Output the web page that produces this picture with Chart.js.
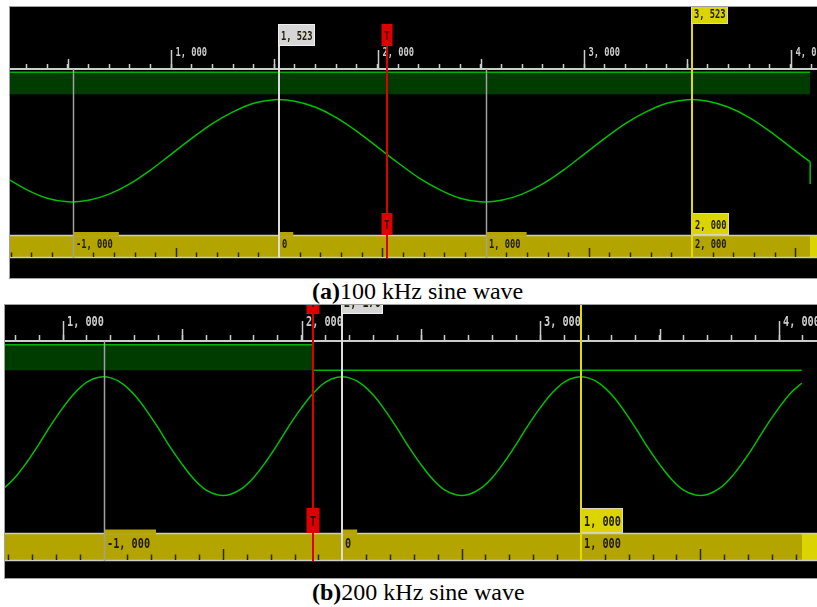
<!DOCTYPE html>
<html><head><meta charset="utf-8">
<script src="https://cdn.jsdelivr.net/npm/chart.js@4.4.1/dist/chart.umd.min.js"></script>
<style>
html,body{margin:0;padding:0;background:#fff;width:817px;height:607px;overflow:hidden;position:relative}
.panel{position:absolute;background:#000;border:1px solid #a0a0a0;border-right:none}
.panel canvas{display:block}
.cap{position:absolute;font-family:"Liberation Serif","Times New Roman",serif;font-size:24px;line-height:24px;white-space:nowrap;color:#000}
</style></head><body>
<div class="panel" style="left:9px;top:6px;width:807px;height:271px"><canvas id="chartA" width="807" height="271"></canvas></div>
<div class="cap" style="left:312px;top:279px"><b>(a)</b>100 kHz sine wave</div>
<div class="panel" style="left:4px;top:304px;width:812px;height:273px"><canvas id="chartB" width="812" height="273"></canvas></div>
<div class="cap" style="left:312px;top:580px"><b>(b)</b>200 kHz sine wave</div>
<script>
// ================= DATA =================
// (a) 100 kHz sine wave  (x = sample index)
const viewA = [220, 4128];
const sampleA = [200,300,400,500,600,700,800,900,1000,1100,1200,1300,1400,1500,1600,1700,1800,1900,2000,2100,2200,2300,2400,2500,2600,2700,2800,2900,3000,3100,3200,3300,3400,3500,3600,3700,3800,3900,4000,4095];
const waveA = [-0.53,-0.76,-0.93,-1.00,-0.97,-0.85,-0.65,-0.38,-0.07,0.24,0.53,0.76,0.93,1.00,0.97,0.85,0.65,0.38,0.07,-0.24,-0.53,-0.76,-0.93,-1.00,-0.97,-0.85,-0.65,-0.38,-0.07,0.24,0.53,0.76,0.93,1.00,0.97,0.85,0.65,0.38,0.07,-0.22];
const endSampleA = [4095, 4095];      // last sample: trace drops straight down
const endWaveA = [-0.22, -0.65];
const logicSampleA = [200, 4095];
const logicA = [1, 1];
const cursorA = [1523, 3523];   // reference (white) cursor, yellow cursor
const triggerA = 2048;

// (b) 200 kHz sine wave
const viewB = [757, 4159];
const sampleB = [700,750,800,850,900,950,1000,1050,1100,1150,1200,1250,1300,1350,1400,1450,1500,1550,1600,1650,1700,1750,1800,1850,1900,1950,2000,2050,2100,2150,2200,2250,2300,2350,2400,2450,2500,2550,2600,2650,2700,2750,2800,2850,2900,2950,3000,3050,3100,3150,3200,3250,3300,3350,3400,3450,3500,3550,3600,3650,3700,3750,3800,3850,3900,3950,4000,4050,4095];
const waveB = [-0.98,-0.88,-0.69,-0.43,-0.13,0.19,0.48,0.73,0.91,0.99,0.98,0.88,0.69,0.43,0.13,-0.19,-0.48,-0.73,-0.91,-0.99,
               -0.98,-0.88,-0.69,-0.43,-0.13,0.19,0.48,0.73,0.91,0.99,0.98,0.88,0.69,0.43,0.13,-0.19,-0.48,-0.73,-0.91,-0.99,
               -0.98,-0.88,-0.69,-0.43,-0.13,0.19,0.48,0.73,0.91,0.99,0.98,0.88,0.69,0.43,0.13,-0.19,-0.48,-0.73,-0.91,-0.99,
               -0.98,-0.88,-0.69,-0.43,-0.13,0.19,0.48,0.73,0.89];
const endSampleB = [];
const endWaveB = [];
const logicSampleB = [700, 2048, 2048, 4095];
const logicB = [1, 1, 0, 0];
const cursorB = [2170, 3170];
const triggerB = 2048;

const recordLength = 4096;
const minorStep = 100, mediumStep = 500, majorStep = 1000;

// ================= STYLE =================
const C = {axis:'#cccccc', band:'#b4a400', bright:'#dcd400', boxEdge:'#d8d8b8', bandTick:'#2c2800',
  grid:'#a0a0a0', white:'#dcdcdc', whiteBox:'#d6d6d6', whiteEdge:'#efefef', yellow:'#e2da00', red:'#dc0000',
  dark:'#1e1c00', wave:'#00c000', logic:'#00b000', logicFill:'#003c00'};
const SA = {axisTop:62, bottomPad:20, tickMin:5, tickMed:10, tickMaj:19, font:12.5, sx:0.70, lblDx:4, topLblUp:16.5,
  bandH:23, bandTickMin:4.5, bandTickMed:9, bandLblDown:9.5, txtDx:3, tabH:3, tabPad:8, boxW:37, boxH:22, boxOff:23, boxTxtUp:9.5, trigW:11};
const SB = {axisTop:36, bottomPad:17, tickMin:6, tickMed:12, tickMaj:20, font:13.8, sx:0.74, lblDx:3.5, topLblUp:18.5,
  bandH:28, bandTickMin:5.5, bandTickMed:11, bandLblDown:11.5, txtDx:3, tabH:3.5, tabPad:8, boxW:42, boxH:25, boxOff:27, boxTxtUp:10.5, trigW:13};
const TEXT_WEIGHT = '600';

function fmt(v) {
  const n = Math.abs(Math.round(v));
  const s = n >= 1000 ? Math.floor(n / 1000) + ', ' + String(n % 1000).padStart(3, '0') : String(n);
  return (v < 0 ? '-' : '') + s;
}
function fontOf(S, bold) { return (bold ? 'bold' : TEXT_WEIGHT) + ' ' + S.font + 'px "DejaVu Sans Mono", monospace'; }
function txt(ctx, s, x, y, S, color, opt) {
  opt = opt || {};
  ctx.save();
  ctx.font = fontOf(S, opt.bold);
  ctx.fillStyle = color; ctx.textBaseline = 'middle'; ctx.textAlign = opt.align || 'left';
  ctx.translate(x, y); ctx.scale(S.sx, 1); ctx.fillText(s, 0, 0);
  ctx.restore();
}
function txtW(ctx, s, S) { ctx.save(); ctx.font = fontOf(S); const w = ctx.measureText(s).width * S.sx; ctx.restore(); return w; }
function vline(ctx, x, y1, y2, color, w) { ctx.beginPath(); ctx.strokeStyle = color; ctx.lineWidth = w; ctx.moveTo(x, y1); ctx.lineTo(x, y2); ctx.stroke(); }
function hline(ctx, x1, x2, y, color, w) { ctx.beginPath(); ctx.strokeStyle = color; ctx.lineWidth = w; ctx.moveTo(x1, y); ctx.lineTo(x2, y); ctx.stroke(); }
function box(ctx, x, y, w, h, fill, stroke) {
  ctx.fillStyle = fill; ctx.fillRect(x, y, w, h);
  if (stroke) { ctx.strokeStyle = stroke; ctx.lineWidth = 1; ctx.strokeRect(x + 0.5, y + 0.5, w - 1, h - 1); }
}

function scopePlugin(D, S) {
  return {
    id: 'scope',
    afterDraw(chart) {
      const ctx = chart.ctx, ca = chart.chartArea, W = chart.width;
      const xs = chart.scales.x, xr = chart.scales.x2;
      const top = ca.top, bot = ca.bottom, bandTop = bot - S.bandH;
      const px = v => Math.round(xs.getPixelForValue(v));
      const pr = v => Math.round(xr.getPixelForValue(v));
      const delta = D.cursor[1] - D.cursor[0];
      ctx.save();
      // top time axis: longer marks and labels
      xs.ticks.forEach(t => {
        const v = Math.round(t.value);
        if (v % minorStep) return;
        const len = v % majorStep === 0 ? S.tickMaj : (v % mediumStep === 0 ? S.tickMed : 0);
        if (!len) return;
        const x = px(v) + 0.5;
        vline(ctx, x, top, top - len, C.axis, 1.5);
        if (v % majorStep === 0) txt(ctx, fmt(v), x + S.lblDx, top - S.topLblUp, S, C.axis);
      });
      // bottom relative axis band
      const endX = px(recordLength);
      ctx.fillStyle = C.band; ctx.fillRect(0, bandTop, endX, S.bandH);
      ctx.fillStyle = C.bright; ctx.fillRect(endX, bandTop, W - endX, S.bandH);
      hline(ctx, 0, W, bandTop + 0.5, C.axis, 1.5);
      hline(ctx, 0, W, bot - 0.5, C.axis, 1.5);
      xr.ticks.forEach(t => {
        const v = Math.round(t.value);
        if (v % minorStep || v % majorStep === 0) return;
        const x = pr(v) + 0.5;
        if (x > endX) return;
        vline(ctx, x, bot - 1, bot - 1 - (v % mediumStep === 0 ? S.bandTickMed : S.bandTickMin), C.bandTick, 1.5);
      });
      xr.ticks.forEach(t => {
        const v = Math.round(t.value);
        if (v % majorStep) return;
        const x = pr(v);
        if (x < 0 || x > endX) return;
        if (v !== 0 && v !== delta) vline(ctx, x + 0.5, top, bot, C.grid, 1.5);
        const s = fmt(v), w = txtW(ctx, s, S);
        if (v === delta) {
          box(ctx, x, bandTop - S.boxH, S.boxW, S.boxH, C.bright, C.boxEdge);
          txt(ctx, s, x + S.txtDx, bandTop - S.boxTxtUp, S, C.dark);
        } else {
          ctx.fillStyle = C.band; ctx.fillRect(x + 1, bandTop - S.tabH, w + S.tabPad, S.tabH + 1.5);
        }
        txt(ctx, s, x + S.txtDx, bandTop + S.bandLblDown, S, C.dark);
      });
      // cursors and trigger
      const xw = px(D.cursor[0]), xy = px(D.cursor[1]), xt = px(D.trigger);
      const wTop = top - S.boxOff - S.boxH, yTop = wTop - S.boxH;
      vline(ctx, xw, wTop, bot, C.white, 2);
      vline(ctx, xy, yTop, bot, C.yellow, 2);
      vline(ctx, xt, wTop, bot, C.red, 2);
      box(ctx, xw - 1, wTop, S.boxW, S.boxH, C.whiteBox, C.whiteEdge);
      txt(ctx, fmt(D.cursor[0]), xw - 1 + S.txtDx, wTop + S.boxH - S.boxTxtUp, S, C.dark);
      box(ctx, xy - 1, yTop, S.boxW, S.boxH, C.bright, C.boxEdge);
      txt(ctx, fmt(D.cursor[1]), xy - 1 + S.txtDx, yTop + S.boxH - S.boxTxtUp, S, C.dark);
      box(ctx, xt - S.trigW / 2, wTop, S.trigW, S.boxH, C.red);
      txt(ctx, 'T', xt, wTop + S.boxH - S.boxTxtUp, S, '#3a0000', {bold: true, align: 'center'});
      box(ctx, xt - S.trigW / 2, bandTop - S.boxH, S.trigW, S.boxH, C.red);
      txt(ctx, 'T', xt, bandTop - S.boxTxtUp, S, '#3a0000', {bold: true, align: 'center'});
      ctx.restore();
    }
  };
}

function build(id, D, S) {
  const mkTicks = s => { const t = []; for (let v = Math.ceil(s.min / minorStep) * minorStep; v <= s.max; v += minorStep) t.push({value: v}); s.ticks = t; };
  const datasets = [
    { label: 'Logic', yAxisID: 'yd', data: D.logicSample.map((x, i) => ({x, y: D.logic[i]})),
      borderColor: C.logic, borderWidth: 1.5, backgroundColor: C.logicFill, fill: {value: 0}, pointRadius: 0, tension: 0 },
    { label: 'CH1', yAxisID: 'y', data: D.sample.map((x, i) => ({x, y: D.wave[i]})),
      borderColor: C.wave, borderWidth: 1.5, fill: false, pointRadius: 0, tension: 0.35 }
  ];
  if (D.endSample.length) datasets.push({ label: 'CH1 end', yAxisID: 'y', data: D.endSample.map((x, i) => ({x, y: D.endWave[i]})),
      borderColor: C.wave, borderWidth: 1.5, fill: false, pointRadius: 0, tension: 0 });
  return new Chart(document.getElementById(id), {
    type: 'line',
    data: { datasets },
    options: {
      responsive: false, animation: false, devicePixelRatio: 1, events: [],
      layout: { padding: { top: 0, left: 0, right: 0, bottom: S.bottomPad } },
      plugins: { legend: { display: false }, tooltip: { enabled: false } },
      scales: {
        x: { type: 'linear', position: 'top', min: D.view[0], max: D.view[1],
             afterBuildTicks: mkTicks,
             afterFit: s => { s.height = S.axisTop; s.paddingLeft = 0; s.paddingRight = 0; },
             ticks: { display: false, autoSkip: false },
             grid: { drawOnChartArea: false, drawTicks: true, tickLength: S.tickMin, tickColor: C.axis, tickWidth: 1.5 },
             border: { display: true, color: C.axis, width: 2 } },
        x2: { type: 'linear', position: 'bottom', display: false,
              min: D.view[0] - D.cursor[0], max: D.view[1] - D.cursor[0], afterBuildTicks: mkTicks,
              ticks: { display: false, autoSkip: false } },
        y: { display: false, min: -2.1, max: 1.6 },
        yd: { display: false, min: -7.5, max: 1.15 }
      }
    },
    plugins: [scopePlugin(D, S)]
  });
}

build('chartA', {view: viewA, sample: sampleA, wave: waveA, endSample: endSampleA, endWave: endWaveA, logicSample: logicSampleA, logic: logicA, cursor: cursorA, trigger: triggerA}, SA);
build('chartB', {view: viewB, sample: sampleB, wave: waveB, endSample: endSampleB, endWave: endWaveB, logicSample: logicSampleB, logic: logicB, cursor: cursorB, trigger: triggerB}, SB);
</script>
</body></html>
